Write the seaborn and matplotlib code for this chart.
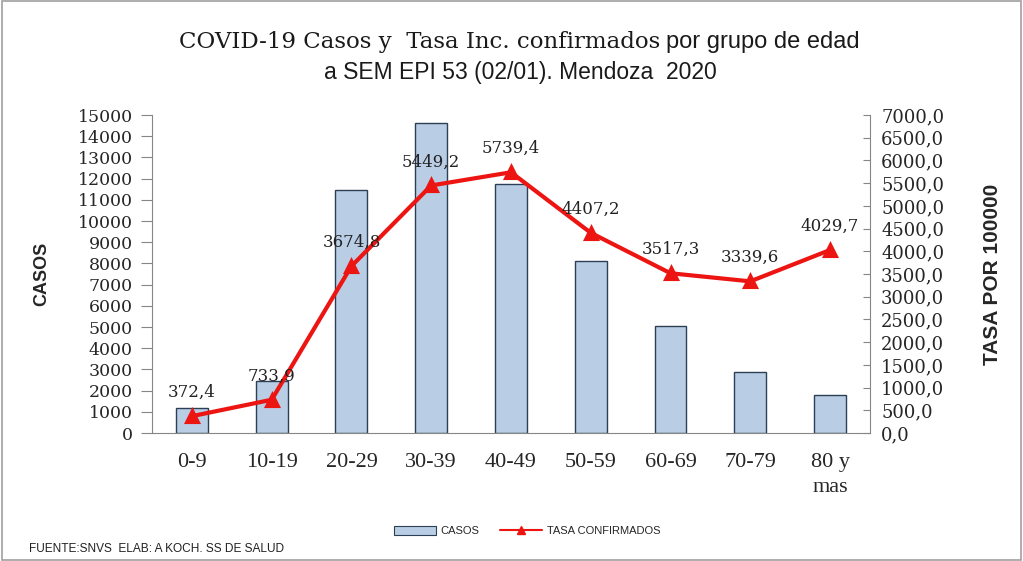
import matplotlib
matplotlib.use("Agg")
import matplotlib.pyplot as plt
from matplotlib.lines import Line2D
from matplotlib.patches import Patch, Rectangle
import pandas as pd
import seaborn as sns

# Datos
grupos = ["0-9", "10-19", "20-29", "30-39", "40-49", "50-59", "60-69", "70-79", "80 y\nmas"]
casos = [1200, 2450, 11450, 14600, 11750, 8130, 5060, 2860, 1790]
tasa = [372.4, 733.9, 3674.8, 5449.2, 5739.4, 4407.2, 3517.3, 3339.6, 4029.7]
casos_ticks = list(range(0, 15001, 1000))
tasa_ticks = list(range(0, 7001, 500))

df = pd.DataFrame({"grupo": grupos, "casos": casos, "tasa": tasa})

sns.set_style("white")
serif = ["DejaVu Serif"]
times = ["Liberation Serif", "DejaVu Serif"]
sans = ["Liberation Sans", "DejaVu Sans"]
plt.rcParams["font.family"] = serif
gris = "#868686"
rojo = "#ec1512"

fig = plt.figure(figsize=(10.23, 5.61), dpi=100)
ax = fig.add_axes([0.1486, 0.228, 0.7018, 0.567])

sns.barplot(data=df, x="grupo", y="casos", ax=ax, color="#b9cde5",
            edgecolor="#2b3f55", linewidth=1, width=0.4, saturation=1)
ax.set_ylim(0, 15000)
ax.set_yticks(casos_ticks)
ax.set_yticklabels([str(t) for t in casos_ticks], fontsize=12.5)
ax.set_xticks(range(len(grupos)))
ax.set_xticklabels(grupos, fontsize=16, family=times, linespacing=1.45, va="top")
ax.set_xlabel("")
ax.set_ylabel("CASOS", fontsize=13, fontweight="bold", family=sans)
ax.yaxis.set_label_coords(-0.142, 0.5)
ax.tick_params(axis="x", length=0, pad=14)
ax.tick_params(axis="y", direction="out", length=8, color=gris, pad=6)
ax.set_xticks([i + 0.5 for i in range(-1, len(grupos))], minor=True)
ax.tick_params(axis="x", which="minor", direction="out", length=7, color=gris)
for s in ["left", "bottom"]:
    ax.spines[s].set_color(gris)
ax.spines["top"].set_visible(False)
ax.spines["right"].set_visible(False)

ax2 = ax.twinx()
sns.pointplot(data=df, x="grupo", y="tasa", ax=ax2, color=rojo,
              markers="^", markersize=9, linewidth=3)
ax2.set_ylim(0, 7000)
ax2.set_xlim(-0.5, len(grupos) - 0.5)
ax2.set_yticks(tasa_ticks)
ax2.set_yticklabels([f"{t:.1f}".replace(".", ",") for t in tasa_ticks], fontsize=13)
ax2.tick_params(axis="y", direction="in", length=5, color=gris, pad=8)
ax2.set_ylabel("TASA POR 100000", fontsize=15, fontweight="bold", family=sans)
ax2.yaxis.set_label_coords(1.157, 0.5)
ax2.spines["right"].set_color(gris)
for s in ["top", "left", "bottom"]:
    ax2.spines[s].set_visible(False)
ax2.grid(False)
ax.grid(False)

for i, v in enumerate(tasa):
    ax2.annotate(f"{v:.1f}".replace(".", ","), (i, v), xytext=(0, 17),
                 textcoords="offset points", ha="center", va="center",
                 fontsize=12, color="#222222")

# titulo con dos fuentes
fig.text(660 / 1023, 1 - 42 / 561, "COVID-19 Casos y  Tasa Inc. confirmados",
         ha="right", va="center", fontsize=16.5, color="#1a1a1a")
fig.text(666 / 1023, 1 - 42 / 561, "por grupo de edad", ha="left", va="center",
         fontsize=17, family=sans, color="#1a1a1a")
fig.text(520 / 1023, 1 - 73 / 561, "a SEM EPI 53 (02/01). Mendoza  2020", ha="center",
         va="center", fontsize=16.5, family=sans, color="#1a1a1a")

handles = [Patch(facecolor="#b9cde5", edgecolor="#2b3f55", linewidth=0.8),
           Line2D([], [], color=rojo, marker="^", markersize=6, linewidth=1.5)]
fig.legend(handles, ["CASOS", "TASA CONFIRMADOS"], loc="center",
           bbox_to_anchor=(527 / 1023, 1 - 531 / 561), ncol=2, frameon=False,
           prop={"family": sans, "size": 8}, handlelength=3.8, handleheight=0.9,
           handletextpad=0.45, columnspacing=1.8)

fig.text(29 / 1023, 1 - 549 / 561, "FUENTE:SNVS  ELAB: A KOCH. SS DE SALUD",
         ha="left", va="center", fontsize=8.6, family=sans, color="#222222")

fig.patches.append(Rectangle((0.002, 0.002), 0.996, 0.996, transform=fig.transFigure,
                             fill=False, edgecolor="#a0a0a0", linewidth=1.2))

fig.savefig("out.png", dpi=100)
